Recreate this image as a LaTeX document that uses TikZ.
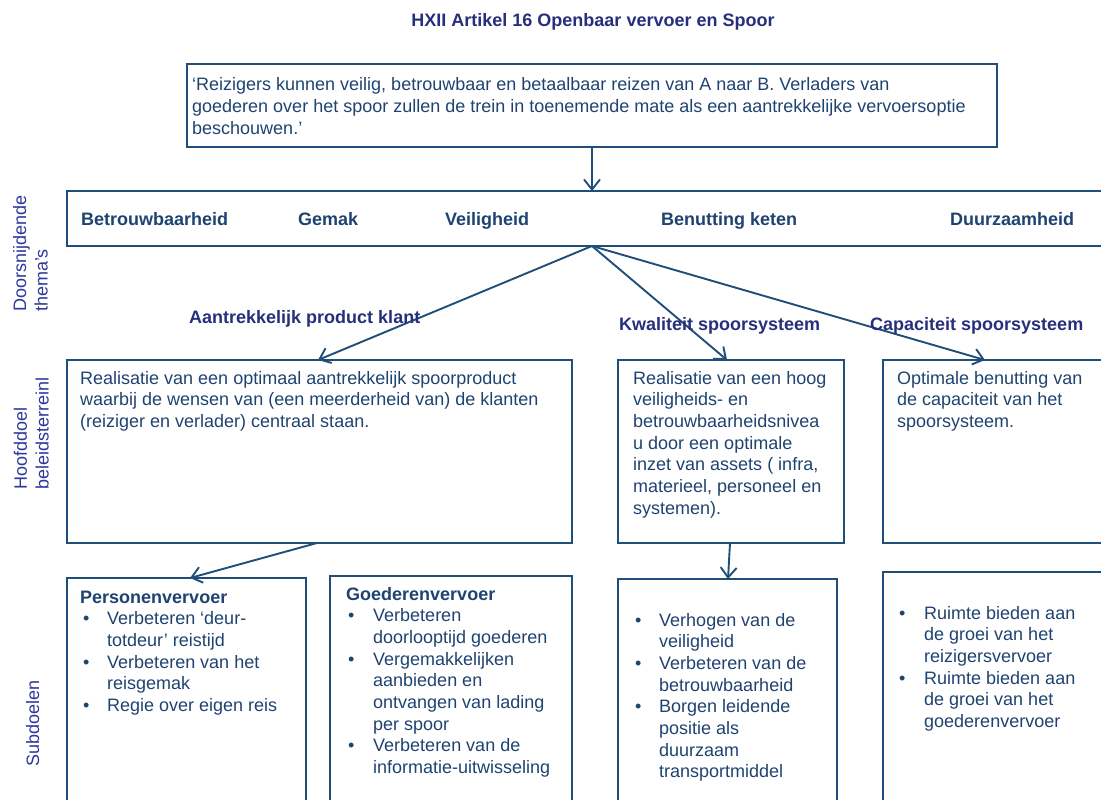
\documentclass[tikz,border=0pt]{standalone}
\usepackage{fontspec}
\setmainfont{Liberation Sans}
\usetikzlibrary{arrows.meta}
\definecolor{boxc}{HTML}{1F4E79}
\definecolor{txtc}{HTML}{1F4370}
\definecolor{hdrc}{HTML}{262F7C}
\definecolor{sidec}{HTML}{2F379C}
\begin{document}
\begin{tikzpicture}[x=1pt,y=-1pt,
  box/.style={draw=boxc, line width=2.6pt, anchor=north west, inner sep=0pt, outer sep=0pt},
  btxt/.style={anchor=base west, inner sep=0pt, text=txtc, font=\fontsize{18}{21.7}\selectfont},
  theme/.style={anchor=base west, inner sep=0pt, text=txtc, font=\bfseries\fontsize{18}{21.7}\selectfont},
  hdr/.style={anchor=base west, inner sep=0pt, text=hdrc, font=\bfseries\fontsize{18}{21.7}\selectfont},
  side/.style={rotate=90, anchor=base west, inner sep=0pt, text=sidec, font=\fontsize{18}{21.7}\selectfont},
  arr/.style={draw=boxc, line width=1.9pt, -{Straight Barb[length=10pt,width=16pt]}},
]
\useasboundingbox (0,0) rectangle (1101,800);
\clip (0,0) rectangle (1101,800);

% title
\node[hdr, anchor=base] (title) at (593,27) {HXII Artikel 16 Openbaar vervoer en Spoor};

% side labels
\node[side] (lab1) at (26,312) {\begin{tabular}[t]{@{}l@{}}Doorsnijdende\\thema's\end{tabular}};
\node[side] (lab2) at (27,490) {\begin{tabular}[t]{@{}l@{}}Hoofddoel\\beleidsterreinl\end{tabular}};
\node[side] (lab3) at (39,767) {Subdoelen};

% boxes
\node[box, minimum width=810, minimum height=83] (v) at (187,64) {};
\node[box, minimum width=1060, minimum height=55] (t) at (67,191) {};
\node[box, minimum width=505, minimum height=183] (h1) at (67,360) {};
\node[box, minimum width=226, minimum height=183] (h2) at (618,360) {};
\node[box, minimum width=260, minimum height=183] (h3) at (883,360) {};
\node[box, minimum width=239, minimum height=260] (s1) at (67,578) {};
\node[box, minimum width=242, minimum height=260] (s2) at (330,576) {};
\node[box, minimum width=219, minimum height=260] (s3) at (618,579) {};
\node[box, minimum width=260, minimum height=260] (s4) at (883,572) {};

% vision text
\node[btxt] (vt) at (192,91) {\begin{tabular}[t]{@{}l@{}}‘Reizigers kunnen veilig, betrouwbaar en betaalbaar reizen van A naar B. Verladers van\\goederen over het spoor zullen de trein in toenemende mate als een aantrekkelijke vervoersoptie\\beschouwen.’\end{tabular}};

% themes
\node[theme] (th1) at (81,225) {Betrouwbaarheid};
\node[theme] (th2) at (298,225) {Gemak};
\node[theme] (th3) at (445,225) {Veiligheid};
\node[theme] (th4) at (661,225) {Benutting keten};
\node[theme] (th5) at (950,225) {Duurzaamheid};

% connectors
\draw[arr] ([xshift=405pt]v.south west) -- ([xshift=525pt]t.north west);
\coordinate (j) at ([xshift=525pt]t.south west);
\draw[arr] (j) -- ([xshift=251pt]h1.north west);
\draw[arr] (j) -- ([xshift=109pt]h2.north west);
\draw[arr] (j) -- ([xshift=102pt]h3.north west);
\draw[arr] ([xshift=250pt]h1.south west) -- ([xshift=123pt]s1.north west);
\draw[arr] ([xshift=112pt]h2.south west) -- ([xshift=110pt]s3.north west);

% branch labels
\node[hdr] (l1) at (189,323) {Aantrekkelijk product klant};
\node[hdr] (l2) at (619,330) {Kwaliteit spoorsysteem};
\node[hdr] (l3) at (870,330) {Capaciteit spoorsysteem};

% main goal texts
\node[btxt] (h1t) at (80,384) {\begin{tabular}[t]{@{}l@{}}Realisatie van een optimaal aantrekkelijk spoorproduct\\waarbij de wensen van (een meerderheid van) de klanten\\(reiziger en verlader) centraal staan.\end{tabular}};
\node[btxt] (h2t) at (633,384) {\begin{tabular}[t]{@{}l@{}}Realisatie van een hoog\\veiligheids- en\\betrouwbaarheidsnivea\\u door een optimale\\inzet van assets ( infra,\\materieel, personeel en\\systemen).\end{tabular}};
\node[btxt] (h3t) at (897,384) {\begin{tabular}[t]{@{}l@{}}Optimale benutting van\\de capaciteit van het\\spoorsysteem.\end{tabular}};

% sub goal texts
\node[btxt] (s1t) at (80,603) {\begin{tabular}[t]{@{}p{27pt}@{}l@{}}
\multicolumn{2}{@{}l@{}}{\bfseries Personenvervoer}\\
\hspace*{3pt}\textbullet & Verbeteren ‘deur-\\
 & totdeur’ reistijd\\
\hspace*{3pt}\textbullet & Verbeteren van het\\
 & reisgemak\\
\hspace*{3pt}\textbullet & Regie over eigen reis
\end{tabular}};
\node[btxt] (s2t) at (346,600) {\begin{tabular}[t]{@{}p{27pt}@{}l@{}}
\multicolumn{2}{@{}l@{}}{\bfseries Goederenvervoer}\\
\hspace*{2pt}\textbullet & Verbeteren\\
 & doorlooptijd goederen\\
\hspace*{2pt}\textbullet & Vergemakkelijken\\
 & aanbieden en\\
 & ontvangen van lading\\
 & per spoor\\
\hspace*{2pt}\textbullet & Verbeteren van de\\
 & informatie-uitwisseling
\end{tabular}};
\node[btxt] (s3t) at (635,626) {\begin{tabular}[t]{@{}p{24pt}@{}l@{}}
\textbullet & Verhogen van de\\
 & veiligheid\\
\textbullet & Verbeteren van de\\
 & betrouwbaarheid\\
\textbullet & Borgen leidende\\
 & positie als\\
 & duurzaam\\
 & transportmiddel
\end{tabular}};
\node[btxt] (s4t) at (899,619) {\begin{tabular}[t]{@{}p{25pt}@{}l@{}}
\textbullet & Ruimte bieden aan\\
 & de groei van het\\
 & reizigersvervoer\\
\textbullet & Ruimte bieden aan\\
 & de groei van het\\
 & goederenvervoer
\end{tabular}};
\end{tikzpicture}
\end{document}
